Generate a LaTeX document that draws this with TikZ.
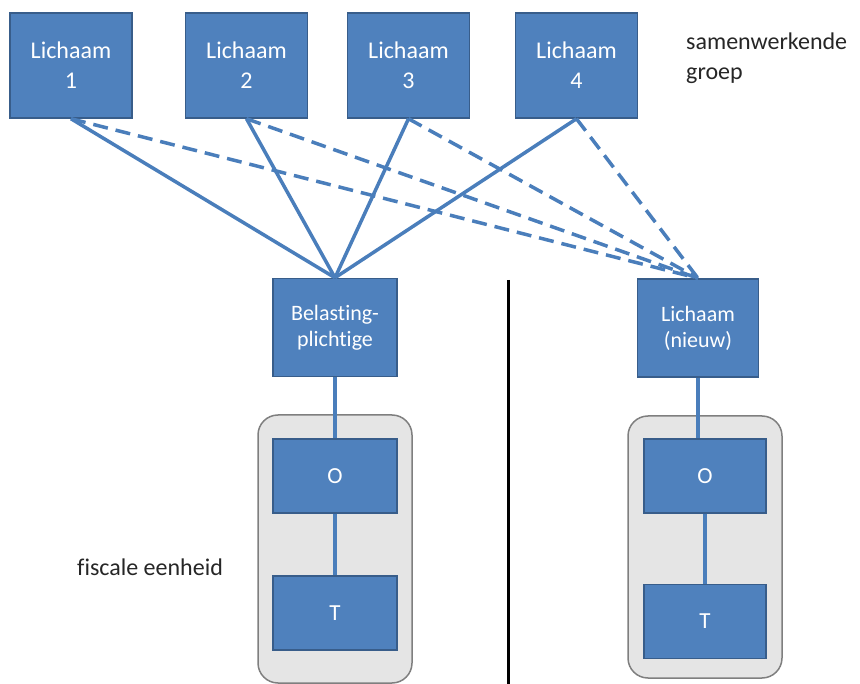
\documentclass[tikz,border=0pt]{standalone}
\usepackage{fontspec}
\setmainfont[RawFeature=-liga]{Carlito}
\definecolor{boxblue}{HTML}{4F81BD}
\definecolor{boxedge}{HTML}{385D8A}
\definecolor{linkblue}{HTML}{4A7EBB}
\definecolor{groupfill}{HTML}{E5E5E5}
\definecolor{groupedge}{HTML}{7F7F7F}
\tikzset{
  bluebox/.style={draw=boxedge, line width=1.5pt, fill=boxblue, text=white, align=center, inner sep=0pt},
  topbox/.style={bluebox, minimum width=122pt, minimum height=105pt, font=\fontsize{24}{30}\selectfont},
  midbox/.style={bluebox, minimum width=122pt, minimum height=98pt, font=\fontsize{22}{26}\selectfont},
  smallbox/.style={bluebox, minimum width=123pt, minimum height=74pt, font=\fontsize{23}{26}\selectfont},
  groupbox/.style={draw=groupedge, line width=1.5pt, fill=groupfill, rounded corners=20pt, inner sep=0pt},
  solidlink/.style={draw=linkblue, line width=3.5pt},
  dashlink/.style={draw=linkblue, line width=3.5pt, dash pattern=on 15pt off 8pt},
  plainlabel/.style={text=black!85, align=left, anchor=west, font=\fontsize{24}{30}\selectfont, inner sep=0pt}
}
\begin{document}
\begin{tikzpicture}[x=1pt,y=-1pt]
\useasboundingbox (0,0) rectangle (860,684);
% group boxes
\node[groupbox, minimum width=154pt, minimum height=268pt] (g1) at (335,549) {};
\node[groupbox, minimum width=154pt, minimum height=262pt] (g2) at (705,547) {};
% top boxes
\node[topbox] (l1) at (71,65.5) {Lichaam\\1};
\node[topbox] (l2) at (246.5,65.5) {Lichaam\\2};
\node[topbox] (l3) at (408.5,65.5) {Lichaam\\3};
\node[topbox] (l4) at (576.5,65.5) {Lichaam\\4};
% middle boxes
\node[midbox, minimum width=124pt] (bp) at (335,327.5) {Belasting-\\plichtige};
\node[midbox, minimum width=121pt] (ln) at (698,328) {Lichaam\\(nieuw)};
% O / T boxes
\node[smallbox, minimum width=124pt] (o1) at (335,476) {O};
\node[smallbox, minimum width=124pt] (t1) at (335,613) {T};
\node[smallbox, minimum width=122pt] (o2) at (705,476) {O};
\node[smallbox, minimum width=122pt] (t2) at (705,621.5) {T};
% labels
\node[plainlabel] (sg) at (686,58) {samenwerkende\\groep};
\node[plainlabel] (fe) at (77,567) {fiscale eenheid};
% divider
\coordinate (dtop) at (508,280);
\coordinate (dbot) at (508,684);
\draw[black, line width=3pt] (dtop) -- (dbot);
% solid links
\foreach \n in {l1,l2,l3,l4} {\draw[solidlink] (\n.south) -- (bp.north);}
% dashed links
\foreach \n in {l1,l2,l3,l4} {\draw[dashlink] (\n.south) -- (ln.north);}
% vertical connectors
\draw[solidlink] (bp.south) -- (o1.north);
\draw[solidlink] (o1.south) -- (t1.north);
\draw[solidlink] (ln.south) -- (ln.south |- o2.north);
\draw[solidlink] (o2.south) -- (t2.north);
\end{tikzpicture}
\end{document}
